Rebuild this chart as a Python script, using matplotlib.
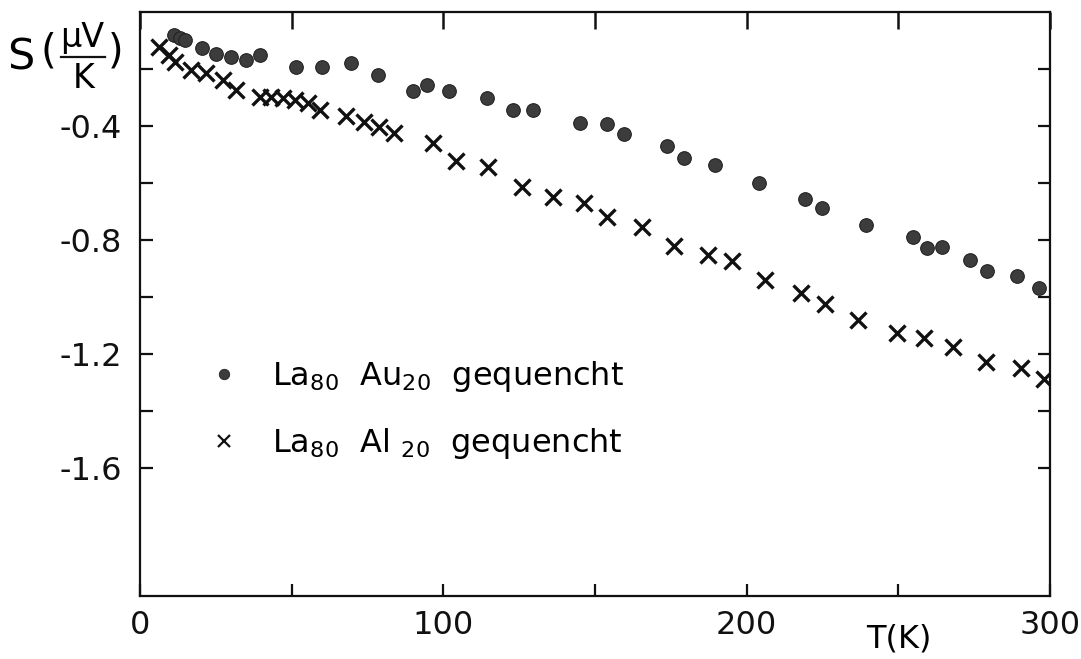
import matplotlib
matplotlib.use("Agg")
import matplotlib.pyplot as plt
from matplotlib.lines import Line2D

plt.rcParams['font.family'] = ['DejaVu Sans']
plt.rcParams['mathtext.default'] = 'regular'

# La80 Au20 gequencht (dots)
T_au = [11.3, 13.3, 14.9, 20.6, 25.2, 30.1, 34.8, 39.4, 51.3, 59.9, 69.4, 78.4,
        89.9, 94.5, 101.8, 114.3, 123.0, 129.6, 145.1, 154.0, 159.6, 173.8, 179.5,
        189.4, 204.0, 219.2, 224.8, 239.4, 254.9, 259.6, 264.5, 273.5, 279.1,
        289.0, 296.3]
S_au = [-0.081, -0.091, -0.098, -0.126, -0.147, -0.158, -0.168, -0.151, -0.193,
        -0.193, -0.179, -0.221, -0.277, -0.256, -0.277, -0.302, -0.344, -0.344,
        -0.389, -0.393, -0.428, -0.470, -0.512, -0.537, -0.600, -0.656, -0.688,
        -0.747, -0.789, -0.828, -0.825, -0.870, -0.909, -0.926, -0.968]

# La80 Al20 gequencht (crosses)
T_al = [6.4, 9.7, 11.4, 16.7, 21.6, 27.3, 31.6, 39.5, 43.2, 47.1, 51.1, 55.4,
        59.4, 67.9, 73.9, 78.8, 83.9, 96.7, 104.1, 114.6, 125.9, 136.1, 146.4,
        154.0, 165.6, 176.2, 187.1, 195.0, 206.0, 217.9, 225.9, 236.8, 249.7,
        258.3, 267.9, 278.8, 290.4, 298.0]
S_al = [-0.123, -0.151, -0.175, -0.204, -0.214, -0.239, -0.274, -0.298, -0.298,
        -0.302, -0.309, -0.319, -0.344, -0.365, -0.386, -0.404, -0.425, -0.460,
        -0.523, -0.544, -0.614, -0.649, -0.670, -0.719, -0.754, -0.821, -0.853,
        -0.874, -0.940, -0.986, -1.025, -1.081, -1.126, -1.144, -1.175, -1.228,
        -1.249, -1.288]

x_ticks = [0, 50, 100, 150, 200, 250, 300]
x_ticklabels = ['0', '', '100', '', '200', '', '300']
y_ticks = [-0.2, -0.4, -0.6, -0.8, -1.0, -1.2, -1.4, -1.6]
y_ticklabels = ['', '-0.4', '', '-0.8', '', '-1.2', '', '-1.6']

label_au = r'La$_{80}$  Au$_{20}$  gequencht'
label_al = r'La$_{80}$  Al $_{20}$  gequencht'

W, H = 1081, 659
fig = plt.figure(figsize=(W / 100, H / 100), dpi=100)
ax = fig.add_axes([140 / W, (H - 596) / H, 910 / W, 584 / H])

dot_color = '#3c3c3c'
h_au, = ax.plot(T_au, S_au, linestyle='none', marker='o', markersize=9.8,
                markerfacecolor=dot_color, markeredgecolor='#222222',
                markeredgewidth=0.8)
h_al, = ax.plot(T_al, S_al, linestyle='none', marker='x', markersize=12,
                color='#111111', markeredgewidth=2.4)

ax.set_xlim(0, 300)
ax.set_ylim(-2.049, 0)

for s in ax.spines.values():
    s.set_linewidth(1.6)
    s.set_color('#111111')

ax.set_xticks(x_ticks)
ax.set_xticklabels(x_ticklabels)
ax.set_yticks(y_ticks)
ax.set_yticklabels(y_ticklabels)
ax.tick_params(axis='both', direction='in', width=1.6, labelsize=23,
               colors='#111111')
ax.tick_params(axis='x', length=9, pad=10, top=False)
ax.tick_params(axis='y', length=9, pad=13, right=True)

# top ticks are a little longer
sec = ax.secondary_xaxis('top')
sec.set_xticks(x_ticks)
sec.set_xticklabels([])
sec.tick_params(direction='in', length=12, width=1.8, colors='#111111')
sec.spines['top'].set_visible(False)

# axis labels
ax.text(250, -2.049 - 0.152, 'T(K)', ha='center', va='center', fontsize=23)


def px(x, y):
    return x / W, 1 - y / H


fig.text(*px(21, 57), 'S', fontsize=31, ha='center', va='center')
fig.text(*px(48, 52), '(', fontsize=29, ha='center', va='center')
fig.text(*px(116, 52), ')', fontsize=29, ha='center', va='center')
fig.text(*px(82, 37), 'µV', fontsize=24, ha='center', va='center')
fig.text(*px(84, 78), 'K', fontsize=24, ha='center', va='center')
fig.add_artist(Line2D([61 / W, 105 / W], [1 - 57 / H, 1 - 57 / H],
                      color='#111111', linewidth=1.6))

handles = [
    Line2D([], [], linestyle='none', marker='o', markersize=7.5,
           markerfacecolor=dot_color, markeredgecolor='#222222',
           markeredgewidth=0.6),
    Line2D([], [], linestyle='none', marker='x', markersize=9,
           color='#111111', markeredgewidth=1.6),
]
leg = ax.legend(handles, [label_au, label_al], loc='upper left',
                bbox_to_anchor=(0.0748, 0.406), frameon=False, fontsize=23,
                handlelength=1.0, handletextpad=1.0, labelspacing=1.0,
                borderpad=0, borderaxespad=0)

fig.savefig('out.png', dpi=100)
